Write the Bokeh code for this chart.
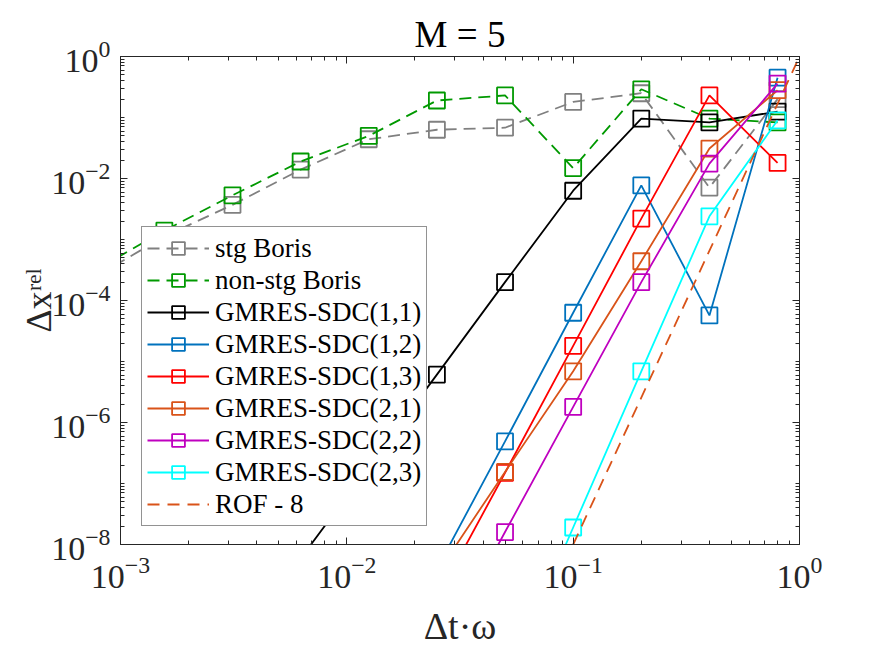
from bokeh.plotting import figure
from bokeh.models import (FixedTicker, Legend, LegendItem, LogAxis,
                          CustomJSTickFormatter)
from bokeh.embed import file_html
from bokeh.resources import INLINE

# step sizes (dt * omega)
dt = [0.8, 0.4, 0.2, 0.1, 0.05, 0.025, 0.0125, 0.00625, 0.003125, 0.0015625, 0.00078125]

# relative position errors
stg_boris = [0.2, 0.0071, 0.25, 0.18, 0.068, 0.063, 0.044, 0.014, 0.0037, 0.00112, 0.00025]
nonstg_boris = [0.083, 0.096, 0.29, 0.0148, 0.23, 0.19, 0.05, 0.019, 0.0053, 0.0014, 0.00032]

dt_11 = [0.8, 0.4, 0.2, 0.1, 0.05, 0.025, 0.00625]
gmres_11 = [0.125, 0.083, 0.096, 0.0063, 2.0e-4, 6.1e-6, 5.9e-9]

dt_sdc = [0.8, 0.4, 0.2, 0.1, 0.05, 0.025]
gmres_12 = [0.45, 5.7e-5, 0.0077, 6.3e-5, 4.9e-7, 4.0e-9]
gmres_13 = [0.018, 0.23, 0.0022, 1.8e-5, 1.5e-7, 1.3e-9]
gmres_21 = [0.28, 0.031, 4.4e-4, 6.9e-6, 1.55e-7, 3.3e-9]
gmres_22 = [0.36, 0.0175, 2.0e-4, 1.8e-6, 1.6e-8, 1.4e-10]

dt_23 = [0.8, 0.4, 0.2, 0.1, 0.05]
gmres_23 = [0.09, 0.0024, 6.9e-6, 1.9e-8, 5.0e-11]

# eighth-order reference slope
rof_x = [0.1, 1.0]
rof_y = [1e-8, 1.0]

series = [
    ("stg Boris", dt, stg_boris, "#808080", "12 7"),
    ("non-stg Boris", dt, nonstg_boris, "#009900", "12 7"),
    ("GMRES-SDC(1,1)", dt_11, gmres_11, "#000000", "solid"),
    ("GMRES-SDC(1,2)", dt_sdc, gmres_12, "#0072BD", "solid"),
    ("GMRES-SDC(1,3)", dt_sdc, gmres_13, "#FF0000", "solid"),
    ("GMRES-SDC(2,1)", dt_sdc, gmres_21, "#D95319", "solid"),
    ("GMRES-SDC(2,2)", dt_sdc, gmres_22, "#BF00BF", "solid"),
    ("GMRES-SDC(2,3)", dt_23, gmres_23, "#00FFFF", "solid"),
]

FONT = "Liberation Serif"
AX = "#262626"

p = figure(width=875, height=657, x_axis_type="log", y_axis_type="log",
           x_range=(1e-3, 1e0), y_range=(1e-8, 1e0),
           output_backend="svg", toolbar_location=None,
           min_border_left=120, min_border_right=76,
           min_border_top=56, min_border_bottom=113)
p.xgrid.visible = False
p.ygrid.visible = False
p.outline_line_color = AX
p.outline_line_width = 1
p.background_fill_color = "white"
p.border_fill_color = "white"

p.title.text = "M = 5"
p.title.align = "center"
p.title.text_font = FONT
p.title.text_font_size = "37px"
p.title.text_font_style = "normal"
p.title.text_color = "#000000"
p.title.standoff = 4

x_major = [1e-3, 1e-2, 1e-1, 1e0]
x_minor = [m * 10.0 ** e for e in range(-3, 0) for m in range(2, 10)]
y_major = [1e-8, 1e-6, 1e-4, 1e-2, 1e0]
y_minor = [m * 10.0 ** e for e in range(-8, 0) for m in range(1, 10)
           if not (m == 1 and e % 2 == 0)]

xt = FixedTicker(ticks=x_major, minor_ticks=x_minor)
yt = FixedTicker(ticks=y_major, minor_ticks=y_minor)


def style_axis(ax, labels=True):
    ax.axis_line_color = AX
    ax.axis_line_width = 1
    ax.major_tick_line_color = AX
    ax.minor_tick_line_color = AX
    ax.major_tick_in = 7
    ax.major_tick_out = 0
    ax.minor_tick_in = 4
    ax.minor_tick_out = 0
    ax.major_label_text_font = FONT
    ax.major_label_text_color = AX
    if labels:
        ax.major_label_text_font_size = "34px"
    else:
        ax.formatter = CustomJSTickFormatter(code="return ''")
        ax.major_label_text_font_size = "2px"
        ax.major_label_standoff = 0


xa = p.xaxis[0]
xa.ticker = xt
style_axis(xa)
xa.major_label_standoff = 12
xa.axis_label = "\u0394t\u00b7\u03c9"
xa.axis_label_text_font = FONT
xa.axis_label_text_font_size = "38px"
xa.axis_label_text_font_style = "normal"
xa.axis_label_text_color = AX
xa.axis_label_standoff = 14

ya = p.yaxis[0]
ya.ticker = yt
style_axis(ya)
ya.major_label_standoff = 10
ya.axis_label = "\u0394x\u02b3\u1d49\u02e1"
ya.axis_label_text_font = FONT
ya.axis_label_text_font_size = "36px"
ya.axis_label_text_font_style = "normal"
ya.axis_label_text_color = AX
ya.axis_label_standoff = -11

top = LogAxis(ticker=xt)
style_axis(top, labels=False)
p.add_layout(top, "above")
right = LogAxis(ticker=yt)
style_axis(right, labels=False)
p.add_layout(right, "right")

items = []
for name, xs, ys, color, dash in series:
    ln = p.line(xs, ys, line_color=color, line_width=1.8, line_dash=dash)
    mk = p.scatter(xs, ys, marker="square", size=16, fill_color=None,
                   line_color=color, line_width=1.8)
    items.append(LegendItem(label=name, renderers=[ln, mk]))

rof = p.line(rof_x, rof_y, line_color="#D95319", line_width=1.8, line_dash="12 8")
items.append(LegendItem(label="ROF - 8", renderers=[rof]))

legend = Legend(items=items, location=(21, 18), margin=0, padding=5,
                spacing=0, glyph_width=62, glyph_height=32, label_height=32,
                label_standoff=6, label_text_font=FONT,
                label_text_font_size="27px", label_text_color="#000000",
                border_line_color=AX, border_line_width=1,
                background_fill_color="white", background_fill_alpha=1)
p.add_layout(legend)

open("out.html", "w").write(file_html(p, INLINE))
